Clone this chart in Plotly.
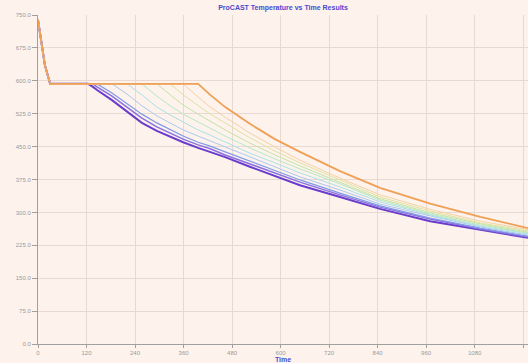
import plotly.graph_objects as go

# time grid (s)
time = [0, 7, 17, 30, 124, 136, 146, 183, 220, 257, 294, 327, 359, 396, 426, 463,
        524, 586, 648, 747, 846, 970, 1094, 1212]

# temperatures of each node
node_1 = [739, 698, 636, 593, 593, 586, 579, 556, 529, 504, 486, 472, 460, 447, 438, 426, 404, 383, 362, 335, 308, 280, 260, 242]
node_2 = [739, 698, 636, 593, 593, 593, 586, 565, 540, 515, 495, 481, 467, 454, 445, 431, 410, 390, 369, 340, 312, 285, 262, 244]
node_3 = [739, 698, 636, 593, 593, 593, 593, 572, 549, 524, 504, 488, 474, 460, 451, 438, 417, 394, 374, 344, 315, 287, 264, 246]
node_4 = [739, 698, 636, 593, 593, 593, 593, 593, 570, 543, 520, 504, 488, 474, 463, 449, 426, 403, 381, 351, 319, 292, 267, 248]
node_5 = [739, 698, 636, 593, 593, 593, 593, 593, 593, 568, 540, 522, 506, 488, 476, 460, 435, 413, 390, 358, 324, 294, 269, 251]
node_6 = [739, 698, 636, 593, 593, 593, 593, 593, 593, 593, 565, 543, 524, 506, 492, 474, 447, 422, 399, 365, 328, 296, 271, 253]
node_7 = [739, 698, 636, 593, 593, 593, 593, 593, 593, 593, 593, 568, 545, 524, 508, 488, 458, 431, 406, 369, 331, 299, 274, 255]
node_8 = [739, 698, 636, 593, 593, 593, 593, 593, 593, 593, 593, 593, 568, 543, 524, 504, 470, 440, 413, 374, 335, 303, 276, 258]
node_9 = [739, 698, 636, 593, 593, 593, 593, 593, 593, 593, 593, 593, 593, 563, 540, 517, 481, 449, 419, 378, 340, 307, 280, 261]
node_10 = [739, 698, 636, 593, 593, 593, 593, 593, 593, 593, 593, 593, 593, 593, 568, 540, 502, 467, 438, 394, 356, 320, 290, 264]

x_ticks = [0, 120, 240, 360, 480, 600, 720, 840, 960, 1080, 1200]
x_labels = ["0", "120", "240", "360", "480", "600", "720", "840", "960", "1080", "1200"]
y_ticks = [0, 75, 150, 225, 300, 375, 450, 525, 600, 675, 750]
y_labels = ["0.0", "75.0", "150.0", "225.0", "300.0", "375.0", "450.0", "525.0", "600.0", "675.0", "750.0"]

series = [node_1, node_2, node_3, node_4, node_5, node_6, node_7, node_8, node_9, node_10]
colors = ["#6a3ccc", "#8a70e0", "#7f9ae8", "#a9c8f2", "#a8e2e6", "#b5e8c6",
          "#c2e4a4", "#dfe2a0", "#f2d2a4", "#f0a055"]
widths = [2, 1.5, 1.2, 1, 1, 1, 1, 1, 1, 1.8]

fig = go.Figure()
for i in range(len(series)):
    fig.add_trace(go.Scatter(x=time, y=series[i], mode="lines",
                             line=dict(color=colors[i], width=widths[i]),
                             showlegend=False))

bg = "#fdf2ec"
fig.update_layout(
    width=528, height=363,
    margin=dict(l=38, r=0, t=15, b=19),
    paper_bgcolor=bg, plot_bgcolor=bg,
    title=dict(text="<b>ProCAST Temperature vs Time Results</b>", x=0.536, xanchor="center",
               y=0.985, yanchor="top",
               font=dict(family="Liberation Sans", size=7, color="#4a4ad0")),
    font=dict(family="Liberation Sans", size=6, color="#999999"),
)
fig.update_xaxes(range=[0, 1212], tickvals=x_ticks, ticktext=x_labels,
                 showgrid=True, gridcolor="#e8d9d3", gridwidth=1,
                 showline=True, linecolor="#a0a0a0", linewidth=1,
                 ticks="outside", ticklen=3, tickcolor="#a0a0a0",
                 tickfont=dict(size=6, color="#9a9a9a"),
                 zeroline=False,
                 title=dict(text="<b>Time</b>", standoff=0,
                            font=dict(size=7, color="#4a4ad0")))
fig.update_yaxes(range=[0, 750], tickvals=y_ticks, ticktext=y_labels,
                 showgrid=True, gridcolor="#e8d9d3", gridwidth=1,
                 showline=True, linecolor="#a0a0a0", linewidth=1,
                 ticks="outside", ticklen=5, tickcolor="#a0a0a0",
                 tickfont=dict(size=6, color="#9a9a9a"),
                 zeroline=False)

fig.write_html("out.html")
